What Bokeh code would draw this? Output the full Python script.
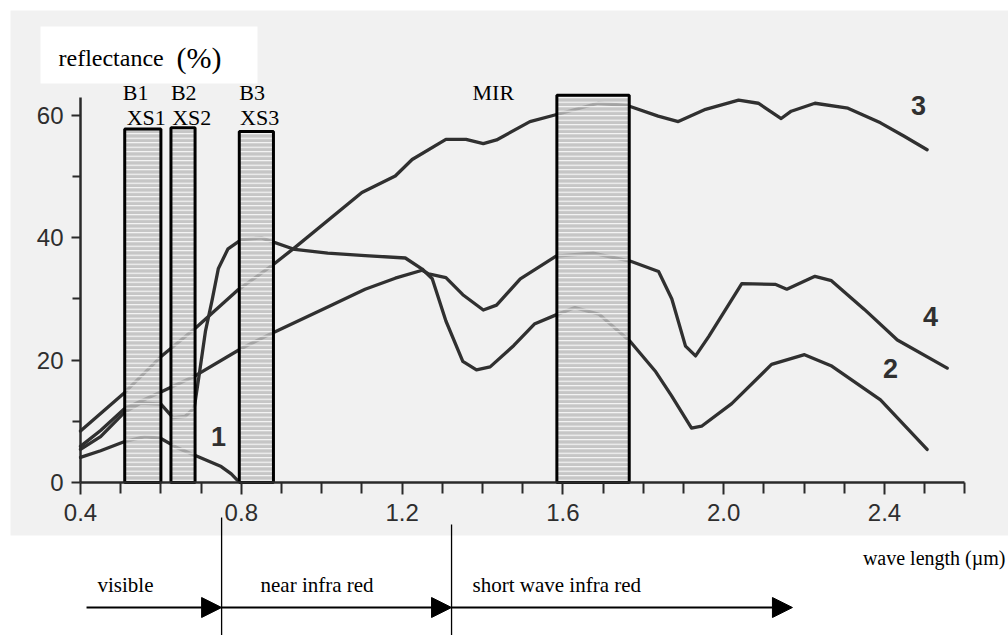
from bokeh.plotting import figure
from bokeh.models import Range1d, FixedTicker, Arrow, NormalHead, PrintfTickFormatter
from bokeh.core.properties import value
from bokeh.embed import file_html
from bokeh.resources import INLINE

# ---------------- data ----------------
# curve 1
wl_1 = [0.40, 0.45, 0.51, 0.56, 0.60, 0.64, 0.69, 0.75, 0.775, 0.79, 0.80]
refl_1 = [4.1, 5.2, 6.7, 7.5, 7.2, 5.7, 4.3, 2.6, 1.4, 0.4, 0.0]

# curve 2
wl_2 = [0.40, 0.45, 0.51, 0.55, 0.60, 0.63, 0.66, 0.683, 0.695, 0.711, 0.727,
        0.743, 0.767, 0.80, 0.85, 0.933, 1.015, 1.108, 1.208, 1.25, 1.275,
        1.309, 1.351, 1.385, 1.419, 1.478, 1.529, 1.583, 1.63, 1.69, 1.767,
        1.831, 1.87, 1.92, 1.945, 2.02, 2.119, 2.201, 2.267, 2.39, 2.506]
refl_2 = [5.4, 7.5, 11.5, 13.0, 12.8, 10.6, 10.8, 12.2, 17.5, 24.8, 29.7,
          35.0, 38.2, 39.7, 40.0, 38.1, 37.5, 37.1, 36.7, 34.9, 33.3,
          26.4, 19.8, 18.4, 18.9, 22.4, 25.9, 27.4, 28.6, 27.5, 23.1,
          18.1, 14.2, 8.9, 9.2, 12.9, 19.3, 20.9, 19.1, 13.5, 5.4]

# curve 3
wl_3 = [0.40, 0.508, 0.599, 0.687, 0.79, 0.875, 0.933, 1.10, 1.183, 1.225,
        1.309, 1.359, 1.402, 1.435, 1.518, 1.587, 1.687, 1.762, 1.837, 1.887,
        1.955, 2.037, 2.086, 2.143, 2.168, 2.227, 2.309, 2.39, 2.449, 2.506]
refl_3 = [8.4, 14.6, 20.5, 25.3, 31.4, 35.4, 38.4, 47.4, 50.1, 52.8,
          56.1, 56.1, 55.4, 56.0, 59.0, 60.2, 62.0, 61.6, 59.9, 59.0,
          61.0, 62.5, 62.0, 59.5, 60.7, 62.0, 61.2, 58.8, 56.6, 54.4]

# curve 4
wl_4 = [0.40, 0.45, 0.51, 0.60, 0.687, 0.80, 0.879, 1.015, 1.108, 1.183,
        1.25, 1.266, 1.309, 1.351, 1.402, 1.435, 1.494, 1.583, 1.675, 1.767,
        1.838, 1.871, 1.905, 1.93, 1.963, 2.045, 2.128, 2.157, 2.227, 2.268,
        2.35, 2.432, 2.556]
refl_4 = [5.9, 8.5, 12.1, 14.8, 17.5, 21.9, 24.5, 28.7, 31.6, 33.4,
          34.7, 34.1, 33.5, 30.7, 28.2, 29.0, 33.3, 37.0, 37.5, 36.2,
          34.5, 30.0, 22.3, 20.7, 23.9, 32.5, 32.4, 31.6, 33.7, 33.0,
          28.3, 23.3, 18.7]

curve_names = ["1", "2", "3", "4"]

# spectral bands
band_names = ["B1", "B2", "B3", "MIR"]
band_sub = ["XS1", "XS2", "XS3", ""]
band_lo = [0.51, 0.625, 0.795, 1.585]
band_hi = [0.60, 0.685, 0.88, 1.765]
band_top = [57.8, 58.0, 57.4, 63.3]

# spectral regions
region_names = ["visible", "near infra red", "short wave infra red"]
region_edges = [0.415, 0.751, 1.323, 2.171]

# axes ticks
x_major = [0.4, 0.8, 1.2, 1.6, 2.0, 2.4]
x_minor = [0.5, 0.6, 0.7, 0.9, 1.0, 1.1, 1.3, 1.4, 1.5, 1.7, 1.8, 1.9,
           2.1, 2.2, 2.3, 2.5, 2.6]
y_major = [0, 20, 40, 60]
y_minor = [10, 30, 50]

# ---------------- layout ----------------
W, H = 1008, 635
PXX = 402.0      # pixels per micrometre
PXY = 6.117      # pixels per percent
X0_PX = 80       # px of x = 0.4
Y0_PX = 482      # px (from top) of y = 0
x_start = 0.4 - X0_PX / PXX
x_end = x_start + W / PXX
y_end = Y0_PX / PXY
y_start = y_end - H / PXY
TXT_DY = 8       # correction for the rendered text baseline


def sx(px):
    return x_start + px / PXX


def sy(py):
    return y_end - py / PXY


def sy_txt(py):
    return sy(py - TXT_DY)


INK = "#2a2a2a"
SERIF = value("Liberation Serif")
SANS = value("Liberation Sans")

p = figure(width=W, height=H, x_range=Range1d(x_start, x_end),
           y_range=Range1d(y_start, y_end), output_backend="svg",
           toolbar_location=None, min_border=0,
           background_fill_color="white", border_fill_color="white")
p.outline_line_color = None
p.grid.visible = False

# scanned grey page background and the white title patch
p.quad(left=[sx(10)], right=[sx(1008)], top=[sy(10)], bottom=[sy(535)],
       fill_color="#f1f1f1", line_color=None)
p.quad(left=[sx(40)], right=[sx(257)], top=[sy(26)], bottom=[sy(83)],
       fill_color="white", line_color=None)

# curves
for wl, rf in [(wl_1, refl_1), (wl_2, refl_2), (wl_3, refl_3), (wl_4, refl_4)]:
    p.line(wl, rf, line_color="#303030", line_width=3.3, line_join="round",
           line_cap="round")

# band boxes
p.quad(left=band_lo, right=band_hi, bottom=[0] * len(band_lo), top=band_top,
       fill_color="#bcbcbc", fill_alpha=0.82, hatch_pattern="-",
       hatch_color="white", hatch_scale=4.5, hatch_weight=1.0,
       line_color="black", line_width=3)

# band labels
band_label_x = [band_lo[0] - 0.005, band_lo[1], band_lo[2], sx(472)]
p.text(x=band_label_x, y=[sy_txt(100)] * 4, text=band_names,
       text_font=SERIF, text_font_size="22px", text_color="black",
       text_baseline="alphabetic", text_align="left")
p.text(x=[band_lo[0] + 0.005, band_lo[1] + 0.003, band_lo[2] + 0.002],
       y=[sy_txt(125)] * 3, text=band_sub[:3],
       text_font=SERIF, text_font_size="22px", text_color="black",
       text_baseline="alphabetic", text_align="left")

# curve labels
p.text(x=[sx(218), sx(890), sx(918), sx(930)],
       y=[sy(436), sy(368), sy(105), sy(316)], text=curve_names,
       text_font=SANS, text_font_size="27px", text_font_style="bold",
       text_color="#303030", text_align="center", text_baseline="middle")

# y title
p.text(x=[sx(58)], y=[sy_txt(65)], text=["reflectance"], text_font=SERIF,
       text_font_size="24px", text_color="black", text_baseline="alphabetic")
p.text(x=[sx(176)], y=[sy_txt(65)], text=["(%)"], text_font=SERIF,
       text_font_size="30px", text_color="black", text_baseline="alphabetic")

# x title
p.text(x=[sx(1005)], y=[sy_txt(565)], text=["wave length (\u00b5m)"],
       text_font=SERIF, text_font_size="20px", text_color="black",
       text_align="right", text_baseline="alphabetic")

# spectral regions: boundaries, arrows, names
p.segment(x0=region_edges[1:3], x1=region_edges[1:3],
          y0=[sy(517), sy(524)], y1=[y_start, y_start],
          line_color="black", line_width=1.3)
for i in range(3):
    p.add_layout(Arrow(end=NormalHead(size=20, fill_color="black",
                                      line_color="black"),
                       x_start=region_edges[i], x_end=region_edges[i + 1],
                       y_start=sy(607), y_end=sy(607),
                       line_color="black", line_width=2))
p.text(x=[sx(97), sx(260), sx(472)], y=[sy_txt(592)] * 3, text=region_names,
       text_font=SERIF, text_font_size="21px", text_color="black",
       text_baseline="alphabetic")

# axes
xa = p.xaxis[0]
xa.fixed_location = 0
xa.bounds = (0.4, 2.6)
xa.ticker = FixedTicker(ticks=x_major, minor_ticks=x_minor)
xa.formatter = PrintfTickFormatter(format="%.1f")
xa.major_tick_in = 0
xa.major_tick_out = 12
xa.minor_tick_in = 0
xa.minor_tick_out = 11
xa.major_label_standoff = 9

ya = p.yaxis[0]
ya.fixed_location = 0.4
ya.bounds = (0, 63)
ya.ticker = FixedTicker(ticks=y_major, minor_ticks=y_minor)
ya.major_tick_in = 0
ya.major_tick_out = 9
ya.minor_tick_in = 0
ya.minor_tick_out = 8
ya.major_label_standoff = 8

for ax in (xa, ya):
    ax.axis_line_color = INK
    ax.axis_line_width = 2.5
    ax.major_tick_line_color = INK
    ax.major_tick_line_width = 2
    ax.minor_tick_line_color = INK
    ax.minor_tick_line_width = 2
    ax.major_label_text_font = "Liberation Sans"
    ax.major_label_text_font_size = "24px"
    ax.major_label_text_color = "#2e2e2e"

open("out.html", "w").write(file_html(p, INLINE))
